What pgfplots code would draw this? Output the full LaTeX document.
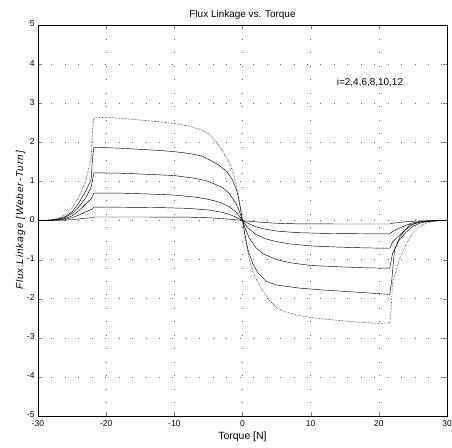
\documentclass[border=0pt]{standalone}
\usepackage{fontspec}
\setmainfont{Liberation Sans}
\usepackage{pgfplots}
\pgfplotsset{compat=1.18}
\begin{document}
\begin{tikzpicture}
\begin{axis}[name=ax,
  scale only axis, width=409bp, height=391bp,
  xmin=-30, xmax=30, ymin=-5, ymax=5,
  xtick={-30,-20,...,30}, ytick={-5,-4,...,5},
  tick align=inside, major tick length=4bp,
  grid=major, major grid style={black!60, line width=0.5pt, dash pattern=on 0.5pt off 13pt},
  axis line style={line width=0.7pt},
  /pgf/number format/assume math mode=true,
  ticklabel style={font=\fontsize{8.5}{9}\selectfont},
  xticklabel style={yshift=-1bp},
  yticklabel style={yshift=1bp},
  title={Flux Linkage vs. Torque}, title style={font=\fontsize{10}{11}\selectfont, yshift=-4bp},
  xlabel={Torque [N]}, xlabel style={font=\fontsize{10.5}{11}\selectfont, yshift=1bp},
  ylabel={\itshape\addfontfeature{LetterSpace=10}Flux Linkage [Weber-Turn]}, ylabel style={font=\fontsize{10}{11}\selectfont, yshift=-5bp},
  cycle list={{black}},
  every axis plot/.append style={black, line width=0.45pt, no marks},
]
% i=12 (dotted)
\addplot[black, densely dotted, line width=0.6pt] coordinates {
(-30,0) (-28,0.02) (-27,0.06) (-26,0.15) (-25,0.32) (-24,0.6) (-23,1.0) (-22.2,1.6) (-22,2.3) (-21.8,2.62) (-20,2.64) (-17,2.6) (-15,2.57) (-12,2.52) (-10,2.48) (-8,2.42) (-6,2.32) (-5,2.22) (-4,2.05) (-3,1.8) (-2,1.5) (-1.5,1.3) (-1,0.98) (-0.5,0.55) (0,0)
(0.5,-0.55) (1,-0.98) (1.5,-1.3) (2,-1.5) (3,-1.8) (4,-2.05) (5,-2.22) (6,-2.32) (8,-2.42) (10,-2.48) (12,-2.52) (15,-2.57) (17,-2.6) (20,-2.63) (21.6,-2.62) (21.8,-2.3) (22,-1.6) (23,-1.0) (24,-0.6) (25,-0.32) (26,-0.15) (27,-0.06) (28,-0.02) (30,0)};
% i=10
\addplot[black] coordinates {
(-30,0) (-28,0.01) (-27,0.04) (-26,0.1) (-25,0.22) (-24,0.45) (-23,0.75) (-22.2,1.05) (-22,1.6) (-21.8,1.87) (-18,1.85) (-15,1.82) (-12,1.79) (-10,1.76) (-8,1.72) (-6,1.65) (-4.8,1.55) (-3.5,1.42) (-2.3,1.25) (-1.5,1.05) (-0.8,0.75) (-0.4,0.4) (0,0)
(0.4,-0.4) (0.8,-0.75) (1.5,-1.1) (2.3,-1.35) (3.5,-1.56) (5,-1.65) (8.4,-1.73) (12,-1.78) (15.7,-1.82) (21.6,-1.89) (21.9,-1.52) (22.3,-0.75) (23.1,-0.41) (24.5,-0.11) (26,-0.04) (28,-0.01) (30,0)};
% i=8
\addplot[black] coordinates {
(-30,0) (-28,0.01) (-27,0.03) (-26,0.08) (-25,0.18) (-24,0.35) (-23,0.58) (-22.2,0.85) (-21.8,1.22) (-18,1.21) (-15,1.19) (-10,1.15) (-7,1.08) (-5,1.0) (-3,0.85) (-2,0.7) (-1,0.45) (-0.5,0.25) (0,0)
(0.5,-0.25) (1,-0.45) (2,-0.7) (3,-0.85) (5,-1.0) (7,-1.08) (10,-1.15) (15,-1.19) (18,-1.21) (21.6,-1.22) (22,-0.85) (23,-0.5) (24,-0.3) (25,-0.15) (26,-0.07) (27,-0.03) (28,-0.01) (30,0)};
% i=6
\addplot[black] coordinates {
(-30,0) (-28,0.01) (-27,0.02) (-26,0.05) (-25,0.12) (-24,0.25) (-23,0.42) (-22.2,0.55) (-21.8,0.70) (-18,0.70) (-14,0.68) (-10,0.65) (-7,0.6) (-5,0.54) (-3.4,0.47) (-2,0.36) (-1,0.22) (-0.5,0.12) (0,0)
(0.5,-0.12) (1,-0.22) (2,-0.36) (3.4,-0.47) (5,-0.54) (7,-0.6) (10,-0.65) (14,-0.68) (18,-0.70) (21.6,-0.71) (22,-0.55) (23,-0.38) (24,-0.22) (25,-0.1) (26,-0.04) (27,-0.02) (28,-0.01) (30,0)};
% i=4
\addplot[black] coordinates {
(-30,0) (-27,0.01) (-26,0.03) (-25,0.07) (-24,0.14) (-23,0.22) (-22.2,0.28) (-21.8,0.34) (-18,0.34) (-12,0.33) (-8,0.31) (-5,0.27) (-3,0.21) (-2,0.16) (-1,0.09) (0,0)
(1,-0.09) (2,-0.16) (3,-0.21) (5,-0.27) (8,-0.31) (12,-0.33) (18,-0.34) (21.6,-0.34) (22,-0.28) (23,-0.2) (24,-0.12) (25,-0.06) (26,-0.03) (27,-0.01) (30,0)};
% i=2
\addplot[black] coordinates {
(-30,0) (-26,0.01) (-25,0.02) (-24,0.04) (-23,0.06) (-22,0.07) (-21.8,0.09) (-15,0.09) (-8,0.085) (-5,0.07) (-3,0.05) (-1,0.02) (0,0)
(1,-0.02) (3,-0.05) (5,-0.07) (8,-0.085) (15,-0.09) (21.6,-0.09) (22,-0.07) (23,-0.05) (24,-0.03) (25,-0.02) (26,-0.01) (30,0)};
\node[font=\fontsize{10}{11}\selectfont] at (axis cs:18.7,3.54) {i=2,4,6,8,10,12};
\end{axis}
\pgfresetboundingbox
\path ([shift={(-38bp,-31bp)}]ax.south west) rectangle ([shift={(5bp,25bp)}]ax.north east);
\end{tikzpicture}
\end{document}
